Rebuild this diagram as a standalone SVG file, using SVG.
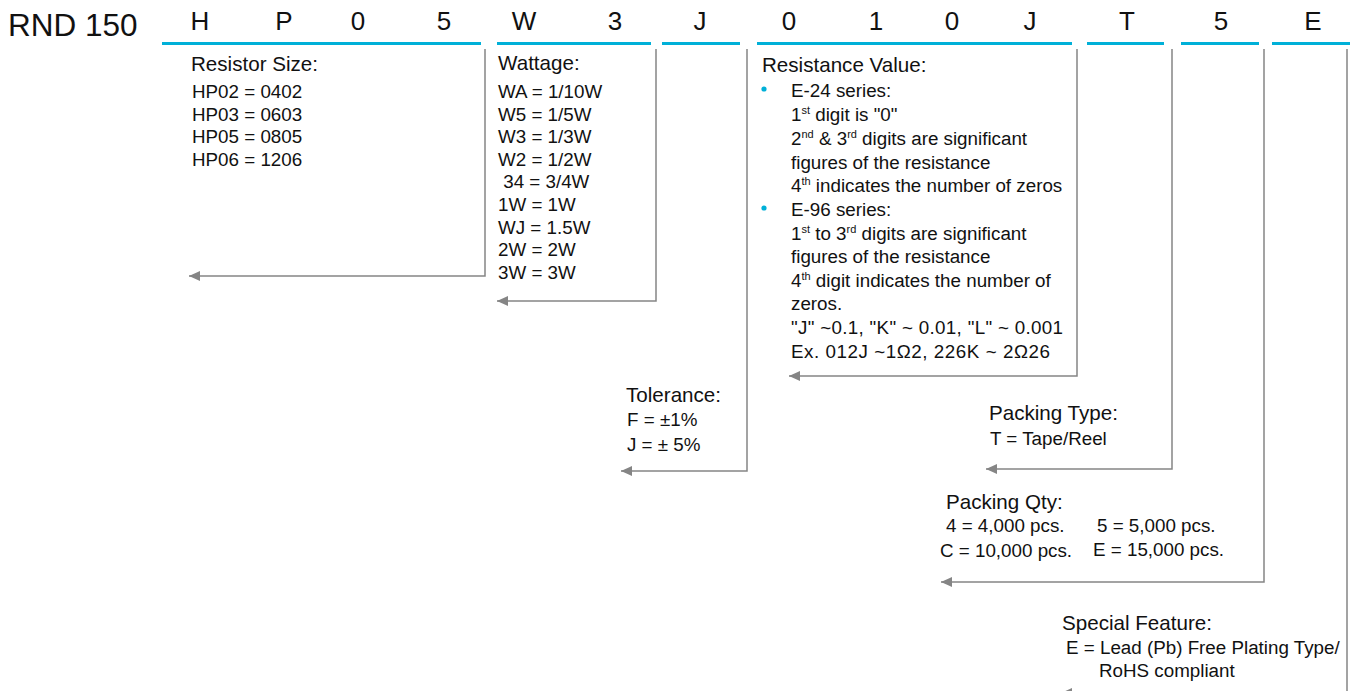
<svg xmlns="http://www.w3.org/2000/svg" width="1356" height="691" viewBox="0 0 1356 691">
<style>
text{font-family:"Liberation Sans",Arial,sans-serif;fill:#111;}
.hd{font-size:26px;text-anchor:middle;}
.tt{font-size:20.6px;}
.it{font-size:18.8px;}
.sup{font-size:11px;}
.bar{fill:#00B0D8;}
.con{fill:none;stroke:#858585;stroke-width:1.5;marker-end:url(#ah);}
.bul{fill:#00B0D8;}
</style>
<defs>
<marker id="ah" markerUnits="userSpaceOnUse" markerWidth="11" markerHeight="10" refX="11" refY="5" orient="auto">
<path d="M0,0 L11,5 L0,10 z" fill="#858585"/>
</marker>
</defs>
<rect width="1356" height="691" fill="#fff"/>
<g id="header">
<text x="8" y="36" style="font-size:31.5px">RND 150</text>
<text class="hd" x="200" y="30">H</text>
<text class="hd" x="284" y="30">P</text>
<text class="hd" x="358" y="30">0</text>
<text class="hd" x="444" y="30">5</text>
<text class="hd" x="524" y="30">W</text>
<text class="hd" x="615" y="30">3</text>
<text class="hd" x="700" y="30">J</text>
<text class="hd" x="789" y="30">0</text>
<text class="hd" x="876" y="30">1</text>
<text class="hd" x="952" y="30">0</text>
<text class="hd" x="1030" y="30">J</text>
<text class="hd" x="1127" y="30">T</text>
<text class="hd" x="1221" y="30">5</text>
<text class="hd" x="1313" y="30">E</text>
<rect class="bar" x="162" y="42" width="319" height="3"/>
<rect class="bar" x="497" y="42" width="154" height="3"/>
<rect class="bar" x="662" y="42" width="78" height="3"/>
<rect class="bar" x="757" y="42" width="315" height="3"/>
<rect class="bar" x="1087" y="42" width="77" height="3"/>
<rect class="bar" x="1181" y="42" width="78" height="3"/>
<rect class="bar" x="1272" y="42" width="78" height="3"/>
</g>
<g id="connectors">
<path class="con" d="M485,49 V276 H189"/>
<path class="con" d="M656,49 V301 H497"/>
<path class="con" d="M747,49 V471 H621"/>
<path class="con" d="M1077,49 V376 H789"/>
<path class="con" d="M1172,49 V469 H986"/>
<path class="con" d="M1264,49 V582 H941"/>
<path class="con" d="M1347,49 V693 H1061"/>
</g>
<g id="resistor-size">
<text class="tt" x="191" y="71">Resistor Size:</text>
<text class="it" x="192" y="98">HP02 = 0402</text>
<text class="it" x="192" y="120.5">HP03 = 0603</text>
<text class="it" x="192" y="143">HP05 = 0805</text>
<text class="it" x="192" y="165.5">HP06 = 1206</text>
</g>
<g id="wattage">
<text class="tt" x="498" y="70">Wattage:</text>
<text class="it" x="498" y="98">WA = 1/10W</text>
<text class="it" x="498" y="120.6">W5 = 1/5W</text>
<text class="it" x="498" y="143.2">W3 = 1/3W</text>
<text class="it" x="498" y="165.8">W2 = 1/2W</text>
<text class="it" x="498" y="188.4" xml:space="preserve"> 34 = 3/4W</text>
<text class="it" x="498" y="211">1W = 1W</text>
<text class="it" x="498" y="233.6">WJ = 1.5W</text>
<text class="it" x="498" y="256.2">2W = 2W</text>
<text class="it" x="498" y="278.8">3W = 3W</text>
</g>
<g id="tolerance">
<text class="tt" x="626" y="402">Tolerance:</text>
<text class="it" x="627" y="426">F = ±1%</text>
<text class="it" x="627" y="451">J = ± 5%</text>
</g>
<g id="resistance-value">
<text class="tt" x="762" y="72">Resistance Value:</text>
<circle class="bul" cx="764" cy="89" r="2.6"/>
<circle class="bul" cx="764" cy="208" r="2.6"/>
<text class="it" x="791" y="97">E-24 series:</text>
<text class="it" x="791" y="121">1<tspan class="sup" dy="-7">st</tspan><tspan dy="7"> digit is "0"</tspan></text>
<text class="it" x="791" y="145">2<tspan class="sup" dy="-7">nd</tspan><tspan dy="7"> &amp; 3</tspan><tspan class="sup" dy="-7">rd</tspan><tspan dy="7"> digits are significant</tspan></text>
<text class="it" x="791" y="168.5">figures of the resistance</text>
<text class="it" x="791" y="192">4<tspan class="sup" dy="-7">th</tspan><tspan dy="7"> indicates the number of zeros</tspan></text>
<text class="it" x="791" y="216">E-96 series:</text>
<text class="it" x="791" y="239.5">1<tspan class="sup" dy="-7">st</tspan><tspan dy="7"> to 3</tspan><tspan class="sup" dy="-7">rd</tspan><tspan dy="7"> digits are significant</tspan></text>
<text class="it" x="791" y="263">figures of the resistance</text>
<text class="it" x="791" y="286.5">4<tspan class="sup" dy="-7">th</tspan><tspan dy="7"> digit indicates the number of</tspan></text>
<text class="it" x="791" y="310">zeros.</text>
<text class="it" x="791" y="334" textLength="272" lengthAdjust="spacing">"J" ~0.1, "K" ~ 0.01, "L" ~ 0.001</text>
<text class="it" x="791" y="357.5" textLength="259" lengthAdjust="spacing">Ex. 012J ~1Ω2, 226K ~ 2Ω26</text>
</g>
<g id="packing-type">
<text class="tt" x="989" y="420">Packing Type:</text>
<text class="it" x="990" y="445">T = Tape/Reel</text>
</g>
<g id="packing-qty">
<text class="tt" x="946" y="509">Packing Qty:</text>
<text class="it" x="946" y="532">4 = 4,000 pcs.</text>
<text class="it" x="1097" y="532">5 = 5,000 pcs.</text>
<text class="it" x="940" y="557">C = 10,000 pcs.</text>
<text class="it" x="1093" y="556">E = 15,000 pcs.</text>
</g>
<g id="special-feature">
<text class="tt" x="1062" y="630">Special Feature:</text>
<text class="it" x="1066" y="654">E = Lead (Pb) Free Plating Type/</text>
<text class="it" x="1099" y="677">RoHS compliant</text>
</g>
</svg>
